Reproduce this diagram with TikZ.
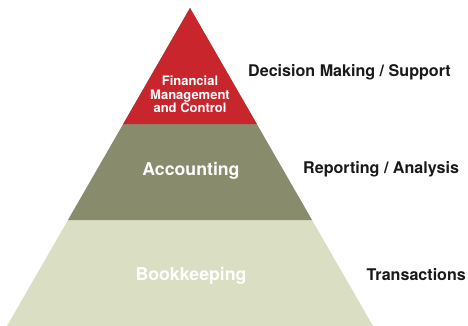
\documentclass[tikz,border=0pt]{standalone}
\usepackage{fontspec}
\setmainfont{TeX Gyre Heros}
\definecolor{pyrred}{HTML}{C9252C}
\definecolor{pyrolive}{HTML}{898B6D}
\definecolor{pyrlight}{HTML}{DADEC3}
\begin{document}
\begin{tikzpicture}[x=1pt,y=-1pt,
  inlabel/.style={text=white,font=\bfseries\fontsize{17.7}{20}\selectfont,anchor=base,inner sep=0pt},
  toplabel/.style={text=white,font=\bfseries\fontsize{13}{13.4}\selectfont,align=center,inner sep=0pt},
  sidelabel/.style={text=black!90,font=\bfseries\fontsize{16.1}{18}\selectfont,anchor=base west,inner sep=0pt}]
\useasboundingbox (0,0) rectangle (468,326);
\coordinate (apex) at (190,8);
\coordinate (rl) at (123.2,124);
\coordinate (rr) at (256.8,124);
\coordinate (gl) at (68,220);
\coordinate (gr) at (312,220);
\coordinate (bl) at (7,326);
\coordinate (br) at (373,326);
\fill[pyrlight] (apex) -- (bl) -- (br) -- cycle;
\fill[pyrolive] (apex) -- (gl) -- (gr) -- cycle;
\fill[pyrred] (apex) -- (rl) -- (rr) -- cycle;
\node[toplabel,anchor=base] (fin) at (190,112.7) {Financial\\Management\\and Control};
\node[inlabel] (acc) at (191,175.5) {Accounting};
\node[inlabel] (book) at (191,280) {Bookkeeping};
\node[sidelabel] (dec) at (248,76.5) {Decision Making / Support};
\node[sidelabel] (rep) at (303,173) {Reporting / Analysis};
\node[sidelabel] (tra) at (366.5,280.5) {Transactions};
\end{tikzpicture}
\end{document}
